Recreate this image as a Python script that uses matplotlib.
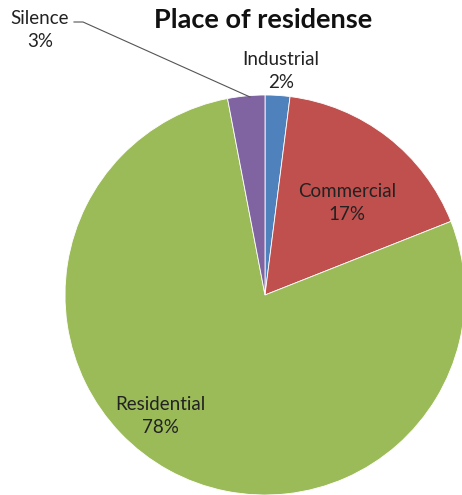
import matplotlib
matplotlib.use("Agg")
import matplotlib.pyplot as plt

categories = ["Industrial", "Commercial", "Residential", "Silence"]
shares = [2, 17, 78, 3]
colors = ["#4F81BD", "#C0504D", "#9BBB59", "#8064A2"]

plt.rcParams["font.family"] = ["Lato", "DejaVu Sans"]

fig = plt.figure(figsize=(4.62, 4.95), dpi=100)
ax = fig.add_axes([0, 0, 1, 1])

wedges, _ = ax.pie(shares, colors=colors, startangle=90, counterclock=False,
                   radius=1.0, center=(0, 0),
                   wedgeprops=dict(edgecolor="white", linewidth=0.6))

ax.set_xlim(-1.325, 0.985)
ax.set_ylim(-1.0, 1.475)
ax.set_aspect("equal")
ax.axis("off")

def lbl(i):
    return f"{categories[i]}\n{shares[i]}%"

txt = dict(ha="center", va="center", fontsize=13.5, color="#222222",
           linespacing=1.45)
ax.text(0.08, 1.12, lbl(0), **txt)
ax.text(0.41, 0.46, lbl(1), **txt)
ax.text(-0.525, -0.605, lbl(2), **txt)
ax.text(-1.125, 1.325, lbl(3), **txt)

# leader line for the small Silence slice
ax.plot([-0.955, -0.91, -0.075], [1.365, 1.365, 0.99],
        color="#555555", linewidth=0.8)

ax.text(-0.01, 1.375, "Place of residense", ha="center", va="center",
        fontsize=19.5, fontweight="bold", color="#111111")

fig.savefig("out.png", dpi=100)
